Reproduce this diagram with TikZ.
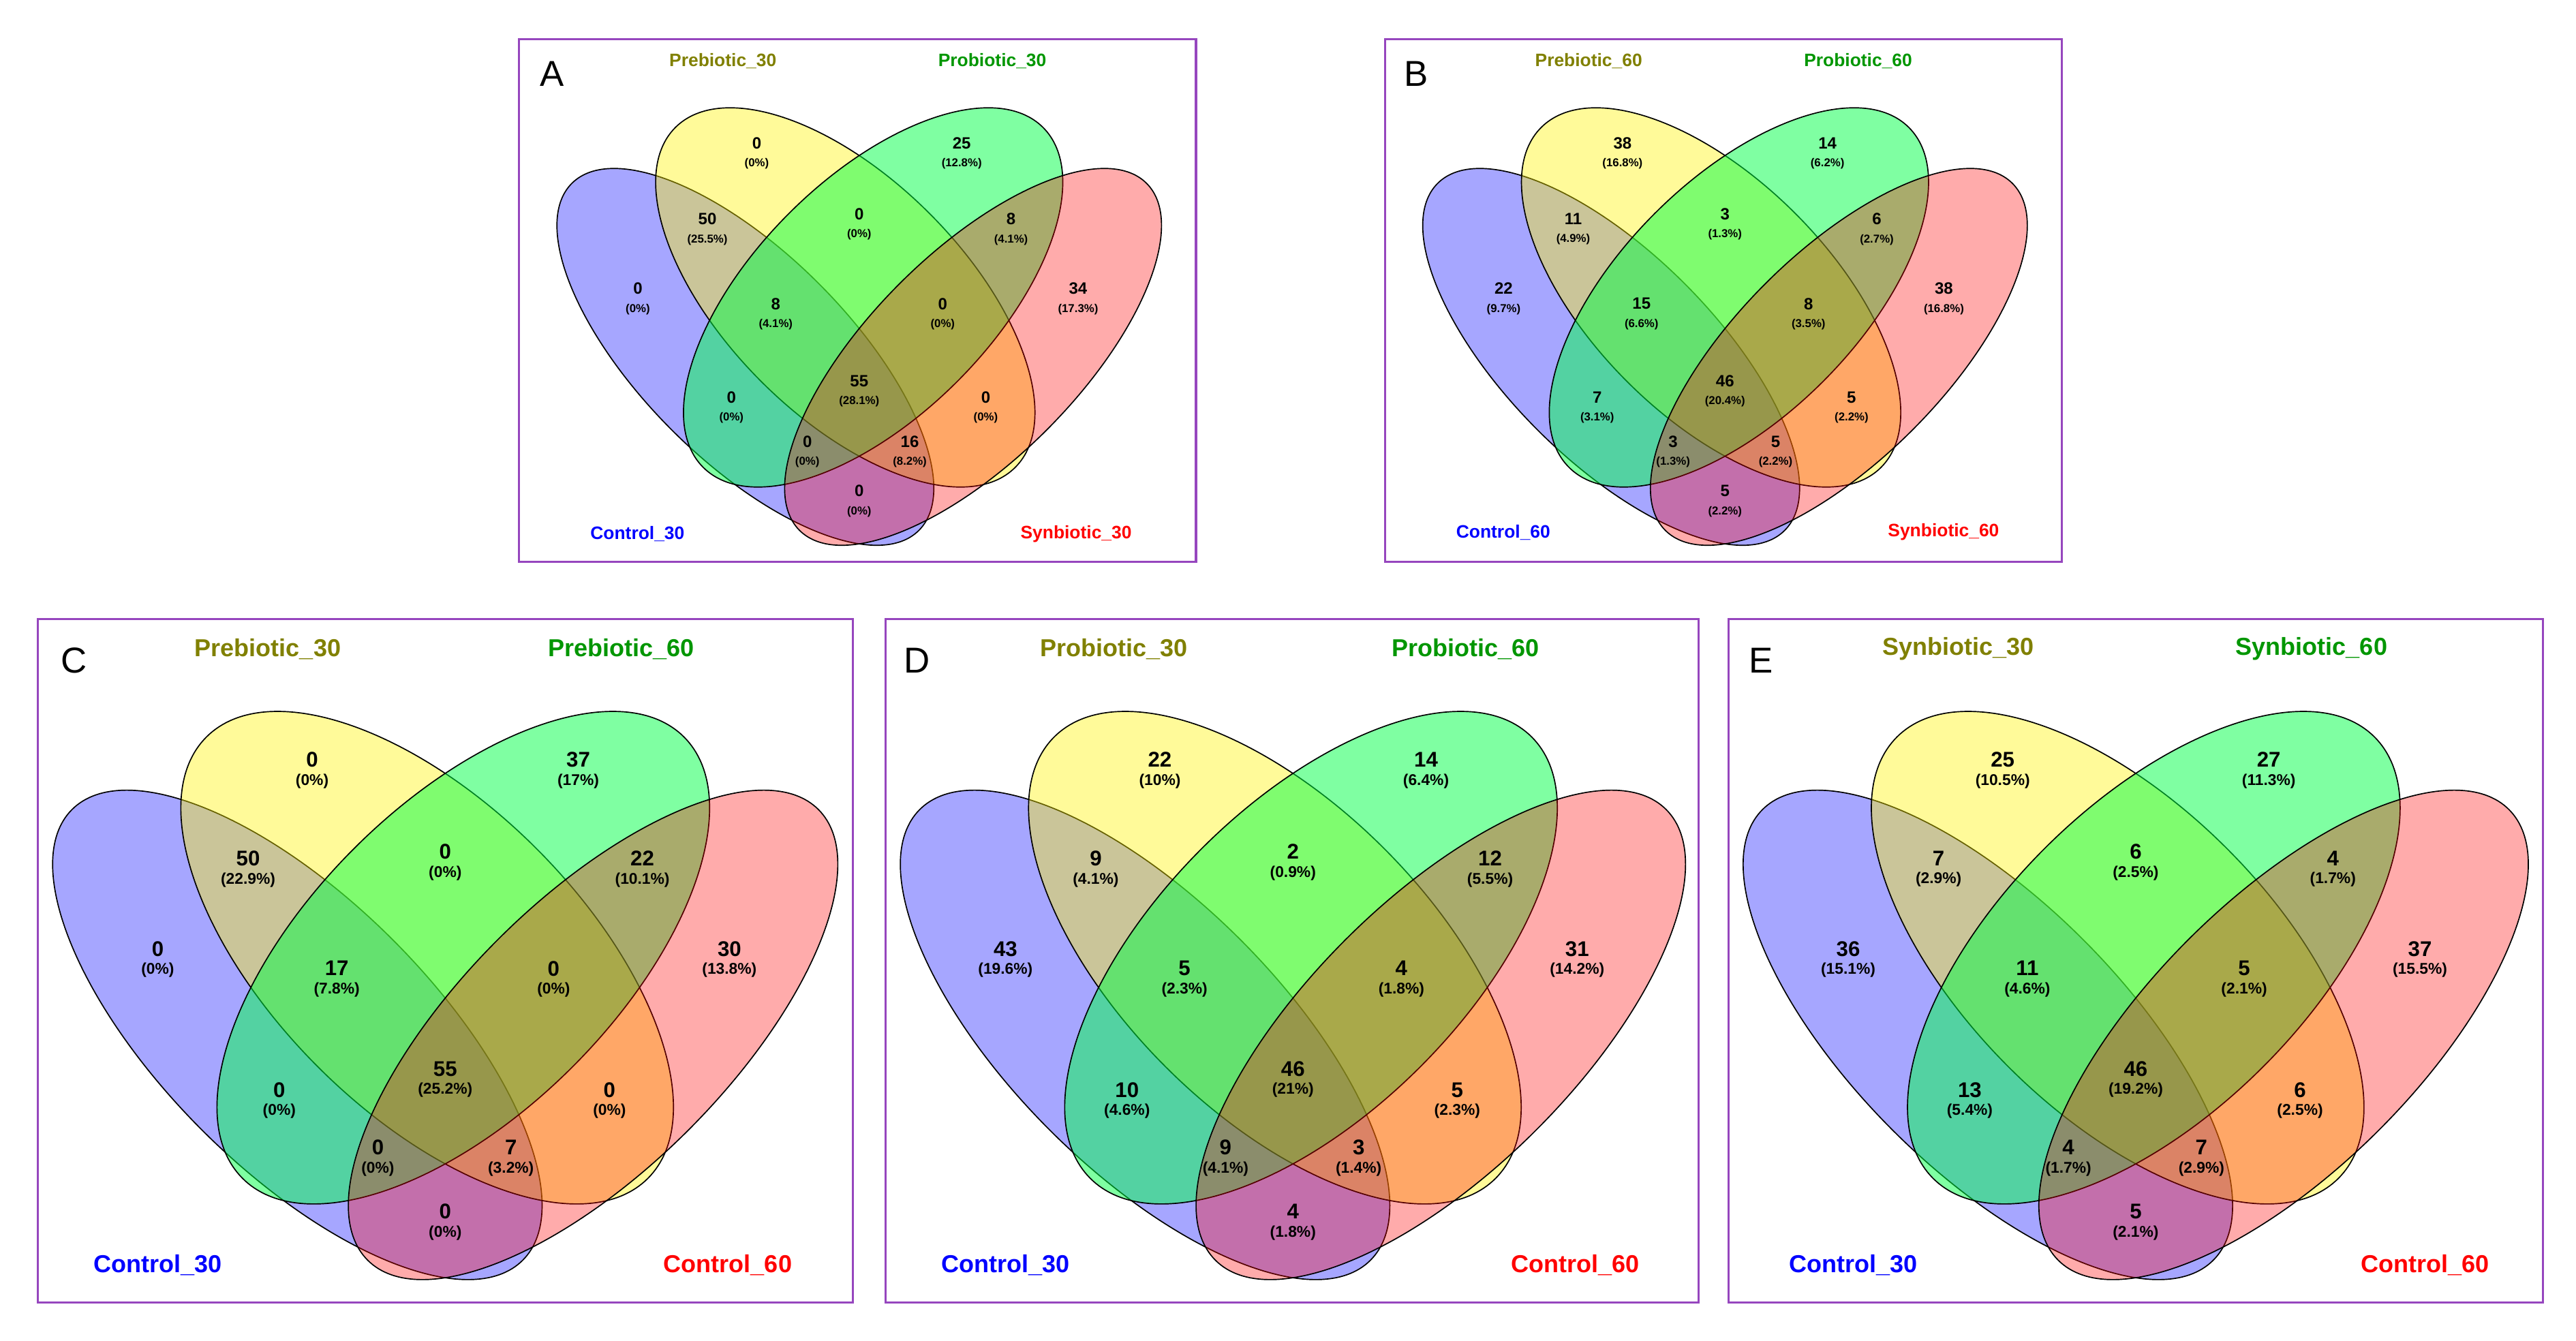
\documentclass[tikz,border=0pt]{standalone}
\usepackage{fontspec}
\setmainfont{Liberation Sans}
\definecolor{frm}{RGB}{150,70,190}
\definecolor{olv}{RGB}{128,128,0}
\definecolor{grn}{RGB}{0,150,0}
\definecolor{vgreen}{RGB}{0,255,70}
\tikzset{
  frame/.style={draw=frm,line width=1.3pt},
  ell/.style={draw=black,line width=0.7pt,fill opacity=#1},
  lab/.style={font=\bfseries\fontsize{#1}{#1}\selectfont,inner sep=0pt},
  letter/.style={font=\fontsize{22}{22}\selectfont,inner sep=0pt},
}
\newcommand\venn[8]{%
\begin{scope}[shift={(#2,#3)},xscale=#4,yscale=#5]
 \draw[ell=.35,fill=blue,rotate around={-45:(-90,25)}] (-90,25) ellipse [x radius=194,y radius=82];
 \draw[ell=.4,fill=yellow,rotate around={-45:(-11,-22)}] (-11,-22) ellipse [x radius=190,y radius=94];
 \draw[ell=.5,fill=vgreen,rotate around={45:(11,-22)}] (11,-22) ellipse [x radius=190,y radius=94];
 \draw[ell=.33,fill=red,rotate around={45:(90,25)}] (90,25) ellipse [x radius=194,y radius=82];
 \coordinate (#1r1) at (-81,-136); \coordinate (#1r2) at (81,-136);
 \coordinate (#1r3) at (-175,-21); \coordinate (#1r4) at (173,-21);
 \coordinate (#1r5) at (-120,-76); \coordinate (#1r6) at (0,-80);
 \coordinate (#1r7) at (120,-76); \coordinate (#1r8) at (-66,-9);
 \coordinate (#1r9) at (66,-9); \coordinate (#1r10) at (-101,65);
 \coordinate (#1r11) at (0,52); \coordinate (#1r12) at (100,65);
 \coordinate (#1r13) at (-41,100); \coordinate (#1r14) at (40,100);
 \coordinate (#1r15) at (0,139);
 \foreach \n/\q [count=\i] in {#6}
   \node[align=center,inner sep=0pt] (#1n\i) at (#1r\i)
     {{\bfseries\fontsize{#7}{#7}\selectfont \n}\\[-1pt]{\bfseries\fontsize{#8}{#8}\selectfont (\q\%)}};
\end{scope}}
\begin{document}
\begin{tikzpicture}[x=1bp,y=-1bp]
\useasboundingbox (0,0) rectangle (1568,816);
% frames
\draw[frame] (316,24) rectangle (728,342);
\draw[frame] (843,24) rectangle (1255,342);
\draw[frame] (23,377) rectangle (519,793);
\draw[frame] (539,377) rectangle (1034,793);
\draw[frame] (1052,377) rectangle (1548,793);
% A
\venn{A}{523}{198}{0.77}{0.77}{0/0,25/12.8,0/0,34/17.3,50/25.5,0/0,8/4.1,8/4.1,0/0,0/0,55/28.1,0/0,0/0,16/8.2,0/0}{10}{7}
\node[letter] (LA) at (336,45) {A};
\node[lab=11,text=olv] (A1) at (440,37) {Prebiotic\_30};
\node[lab=11,text=grn] (A2) at (604,37) {Probiotic\_30};
\node[lab=11,text=blue] (A3) at (388,325) {Control\_30};
\node[lab=11,text=red] (A4) at (655,325) {Synbiotic\_30};
% B
\venn{B}{1050}{198}{0.77}{0.77}{38/16.8,14/6.2,22/9.7,38/16.8,11/4.9,3/1.3,6/2.7,15/6.6,8/3.5,7/3.1,46/20.4,5/2.2,3/1.3,5/2.2,5/2.2}{10}{7}
\node[letter] (LB) at (862,45) {B};
\node[lab=11,text=olv] (B1) at (967,37) {Prebiotic\_60};
\node[lab=11,text=grn] (B2) at (1131,37) {Probiotic\_60};
\node[lab=11,text=blue] (B3) at (915,324) {Control\_60};
\node[lab=11,text=red] (B4) at (1183,324) {Synbiotic\_60};
% C
\venn{C}{271}{605}{1}{1}{0/0,37/17,0/0,30/13.8,50/22.9,0/0,22/10.1,17/7.8,0/0,0/0,55/25.2,0/0,0/0,7/3.2,0/0}{13}{9.5}
\node[letter] (LC) at (45,402) {C};
\node[lab=15,text=olv] (C1) at (163,395) {Prebiotic\_30};
\node[lab=15,text=grn] (C2) at (378,395) {Prebiotic\_60};
\node[lab=15,text=blue] (C3) at (96,770) {Control\_30};
\node[lab=15,text=red] (C4) at (443,770) {Control\_60};
% D
\venn{D}{787}{605}{1}{1}{22/10,14/6.4,43/19.6,31/14.2,9/4.1,2/0.9,12/5.5,5/2.3,4/1.8,10/4.6,46/21,5/2.3,9/4.1,3/1.4,4/1.8}{13}{9.5}
\node[letter] (LD) at (558,402) {D};
\node[lab=15,text=olv] (D1) at (678,395) {Probiotic\_30};
\node[lab=15,text=grn] (D2) at (892,395) {Probiotic\_60};
\node[lab=15,text=blue] (D3) at (612,770) {Control\_30};
\node[lab=15,text=red] (D4) at (959,770) {Control\_60};
% E
\venn{E}{1300}{605}{1}{1}{25/10.5,27/11.3,36/15.1,37/15.5,7/2.9,6/2.5,4/1.7,11/4.6,5/2.1,13/5.4,46/19.2,6/2.5,4/1.7,7/2.9,5/2.1}{13}{9.5}
\node[letter] (LE) at (1072,402) {E};
\node[lab=15,text=olv] (E1) at (1192,395) {Synbiotic\_30};
\node[lab=15,text=grn] (E2) at (1407,395) {Synbiotic\_60};
\node[lab=15,text=blue] (E3) at (1128,770) {Control\_30};
\node[lab=15,text=red] (E4) at (1476,770) {Control\_60};
\end{tikzpicture}
\end{document}
